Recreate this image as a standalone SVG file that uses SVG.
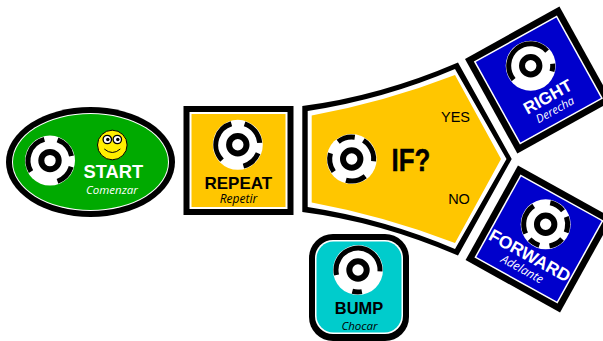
<svg xmlns="http://www.w3.org/2000/svg" width="603" height="341" viewBox="0 0 603 341">
<style>
.bk{fill:#000}.wh{fill:#fff}
.disc{fill:#fff}
.arc{fill:none;stroke:#000;stroke-width:5}
.hub{fill:none;stroke:#000;stroke-width:6}
text{text-anchor:middle}
.lb{font-family:"Liberation Sans",Arial,sans-serif;font-weight:bold}
.sub{font-family:"Open Sans",sans-serif;font-style:italic}
.opt{font-family:"Liberation Sans",Arial,sans-serif;font-size:14.5px;fill:#000}
</style>
<defs>
<g id="base"><circle class="disc" r="25"/><circle class="hub" r="8.700"/></g>
</defs>
<g id="connectors"></g>
<g id="node-start">
<ellipse class="bk" cx="90.500" cy="162" rx="84.500" ry="55"/>
<ellipse class="wh" cx="90.500" cy="162" rx="78.500" ry="49"/>
<ellipse fill="#00aa00" cx="90.500" cy="162" rx="77.500" ry="48"/>
<g transform="translate(50,160.600)"><use href="#base"/><circle class="arc" r="22" pathLength="360" stroke-dasharray="58 28 54 80 105 35" transform="rotate(-70)"/></g>
<g id="smiley" transform="translate(112.300,145)">
<circle r="14.800" fill="#ffee00" stroke="#000"/>
<circle cx="-5" cy="-5.500" r="4.200" fill="#fff" stroke="#000" stroke-width="1.300"/><circle cx="5" cy="-5.500" r="4.200" fill="#fff" stroke="#000" stroke-width="1.300"/>
<circle cx="-4.500" cy="-5.500" r="1.700"/><circle cx="5.500" cy="-5.500" r="1.700"/>
<path d="M-8 4Q0 11 8 4" fill="none" stroke="#000" stroke-width="1"/>
</g>
<text class="lb" x="113.300" y="178" font-size="18.300" fill="#fff">START</text>
<text class="sub" x="112" y="194" font-size="11.500" fill="#fff">Comenzar</text>
</g>
<g id="node-repeat">
<rect class="bk" x="183.500" y="106" width="110" height="109"/>
<rect class="wh" x="189.500" y="112" width="98" height="97"/>
<rect fill="#ffc600" x="191.500" y="114" width="94" height="93"/>
<g transform="translate(237.800,144.800)"><use href="#base"/><circle class="arc" r="22" pathLength="360" stroke-dasharray="67 28 52 61 117 35" transform="rotate(-72)"/></g>
<text class="lb" x="238.300" y="189" font-size="17" fill="#000">REPEAT</text>
<text class="sub" x="238.500" y="203" font-size="12" fill="#000">Repetir</text>
</g>
<g id="node-if">
<path class="bk" d="M302.300 106Q380 96 458 62.500L511.700 159L458 255.500Q380 222 302.300 212Z"/>
<path class="wh" d="M307.700 111Q385 99 455 69L506.500 159L455 249Q385 219 307.700 207Z"/>
<path fill="#ffc600" d="M311.700 115.500Q385 102 455 75L501 159L455 243Q385 216 311.700 202.500Z"/>
<g transform="translate(351.700,159)"><use href="#base"/><circle class="arc" r="22" pathLength="360" stroke-dasharray="46 24 64 46 53 40 50 37" transform="rotate(-128)"/></g>
<text class="lb" transform="translate(411,170.700) scale(.81,1)" font-size="32" stroke="#000" stroke-width=".4" fill="#000">IF?</text>
<text class="opt" x="455.500" y="122">YES</text>
<text class="opt" x="459" y="204">NO</text>
</g>
<g id="node-right" transform="translate(538.400,80) rotate(-29)">
<rect class="bk" x="-54" y="-54" width="108" height="108"/>
<rect class="wh" x="-47.500" y="-47.500" width="95" height="95"/>
<rect fill="#0000cc" x="-46" y="-46" width="92" height="92"/>
<g transform="translate(.2,-16.200) rotate(29)"><use href="#base"/><circle class="arc" r="22" pathLength="360" stroke-dasharray="177 37 20 126" transform="rotate(141)"/></g>
<text class="lb" x="0" y="25" font-size="17" fill="#fff">RIGHT</text>
<text class="sub" x="0" y="38" font-size="11.500" fill="#fff">Derecha</text>
</g>
<g id="node-forward" transform="translate(539,239) rotate(29)">
<rect class="bk" x="-54" y="-54" width="108" height="108"/>
<rect class="wh" x="-47.500" y="-47.500" width="95" height="95"/>
<rect fill="#0000cc" x="-46" y="-46" width="92" height="92"/>
<g transform="translate(-1.300,-16.100) rotate(-29)"><use href="#base"/><circle class="arc" r="22" pathLength="360" stroke-dasharray="40 18 42 20 38 27 30 18 82 45" transform="rotate(-78)"/></g>
<text class="lb" x="0" y="25" font-size="17.500" fill="#fff">FORWARD</text>
<text class="sub" x="0" y="38.500" font-size="12" fill="#fff">Adelante</text>
</g>
<g id="node-bump">
<rect class="bk" x="309" y="234" width="100" height="107" rx="24"/>
<rect class="wh" x="315" y="240" width="88" height="94" rx="18"/>
<rect fill="#00cccc" x="316.500" y="241.500" width="85" height="91" rx="17"/>
<g transform="translate(358,270)"><use href="#base"/><circle class="arc" r="22" pathLength="360" stroke-dasharray="197 76 25 62" transform="rotate(167)"/></g>
<text class="lb" x="359" y="313.500" font-size="16.400" fill="#000">BUMP</text>
<text class="sub" x="359.500" y="330" font-size="11.500" fill="#000">Chocar</text>
</g>
</svg>
